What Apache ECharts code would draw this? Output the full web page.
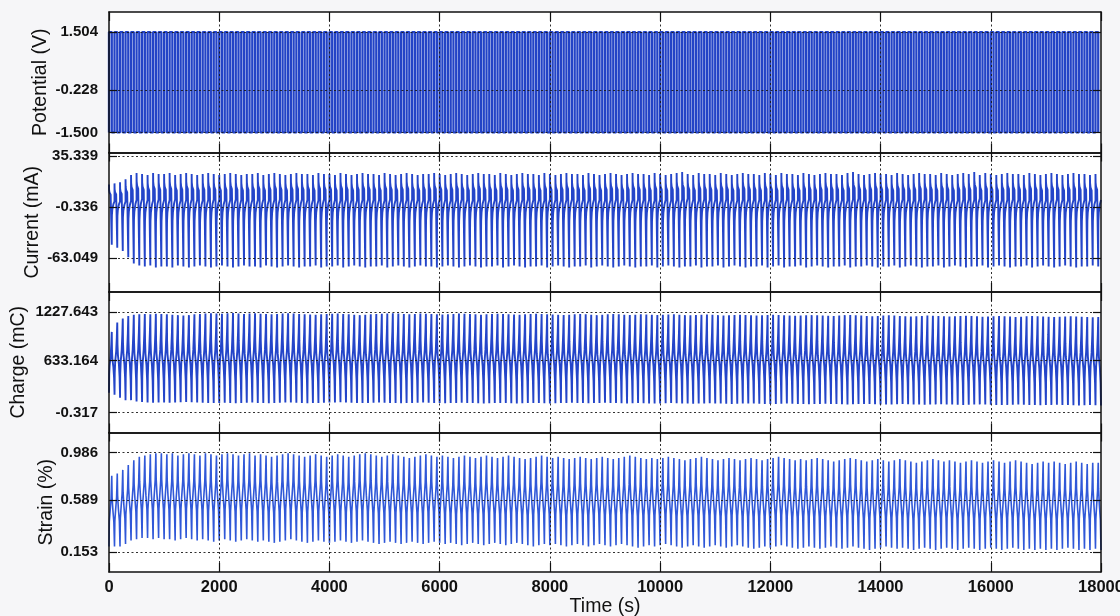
<!DOCTYPE html>
<html>
<head>
<meta charset="utf-8">
<script src="https://cdn.jsdelivr.net/npm/echarts@6/dist/echarts.min.js"></script>
<style>
  html, body { margin: 0; padding: 0; background: #f6f6f8; }
  #chart { width: 1120px; height: 616px; }
</style>
</head>
<body>
<div id="chart"></div>
<script>
// ---- time axis ----
const timeMax = 18000;
const timeStep = 2000;
const cyclePeriod = 100;            // s per potential cycle

// ---- y tick values and their printed labels ----
const potentialTickPos = [-1.500, -0.228, 1.504];
const potentialTickText = ['-1.500', '-0.228', '1.504'];
const currentTickPos = [-63.049, -13.855, 35.339];
const currentTickText = ['-63.049', '-0.336', '35.339'];
const chargeTickPos = [-0.317, 633.164, 1227.643];
const chargeTickText = ['-0.317', '633.164', '1227.643'];
const strainTickPos = [0.153, 0.589, 0.986];
const strainTickText = ['0.153', '0.589', '0.986'];

// ---- potential: square wave levels (V) ----
const potentialHigh = 1.504;
const potentialLow = -1.500;

// ---- per-cycle extremes ----
const currentHigh = [
   8,  9, 10, 13, 17, 19, 18, 17, 19, 18,
  18, 19, 17, 18, 19, 18, 17, 18, 19, 18,
  17, 18, 19, 18, 17, 18, 18, 19, 17, 18,
  19, 18, 17, 18, 19, 18, 18, 17, 19, 18,
  18, 17, 19, 18, 17, 18, 19, 18, 18, 17,
  19, 18, 17, 18, 19, 18, 17, 18, 18, 19,
  18, 17, 18, 19, 18, 17, 18, 19, 18, 18,
  17, 19, 18, 17, 18, 19, 18, 18, 17, 19,
  18, 17, 18, 19, 18, 18, 17, 19, 18, 17,
  18, 19, 18, 17, 18, 19, 18, 18, 17, 19,
  18, 17, 18, 19, 20, 18, 17, 19, 18, 18,
  17, 19, 18, 17, 18, 19, 18, 18, 17, 19,
  18, 17, 19, 18, 18, 17, 19, 18, 17, 18,
  19, 18, 18, 17, 19, 20, 18, 17, 18, 19,
  18, 18, 17, 19, 18, 17, 18, 19, 18, 18,
  17, 19, 18, 17, 18, 19, 18, 20, 17, 19,
  18, 17, 18, 19, 18, 18, 17, 19, 18, 17,
  18, 19, 18, 17, 18, 19, 18, 18, 17, 18
];
const currentLow = [
  -50, -53, -56, -62, -68, -70, -71, -70, -72, -71,
  -71, -72, -70, -71, -72, -71, -70, -71, -72, -71,
  -70, -71, -72, -71, -70, -71, -71, -72, -70, -71,
  -72, -71, -70, -71, -72, -71, -71, -70, -72, -71,
  -71, -70, -72, -71, -70, -71, -72, -71, -71, -70,
  -72, -71, -70, -71, -72, -71, -70, -71, -71, -72,
  -71, -70, -71, -72, -71, -70, -71, -72, -71, -71,
  -70, -72, -71, -70, -71, -72, -71, -71, -70, -72,
  -71, -70, -71, -72, -71, -71, -70, -72, -71, -70,
  -71, -72, -71, -70, -71, -72, -71, -71, -70, -72,
  -71, -70, -71, -72, -71, -71, -70, -72, -71, -71,
  -70, -72, -71, -70, -71, -72, -71, -71, -70, -72,
  -71, -70, -72, -71, -71, -70, -72, -71, -70, -71,
  -72, -71, -71, -70, -72, -71, -71, -70, -71, -72,
  -71, -71, -70, -72, -71, -70, -71, -72, -71, -71,
  -70, -72, -71, -70, -71, -72, -71, -71, -70, -72,
  -71, -70, -71, -72, -71, -71, -70, -72, -71, -70,
  -71, -72, -71, -70, -71, -72, -71, -71, -70, -71
];
const chargeHigh = [
   985, 1100, 1150, 1178, 1195, 1200, 1205, 1200, 1208, 1205,
  1200, 1195, 1190, 1185, 1190, 1200, 1205, 1210, 1212, 1210,
  1208, 1212, 1215, 1210, 1205, 1210, 1212, 1208, 1205, 1200,
  1205, 1210, 1212, 1210, 1205, 1200, 1198, 1195, 1200, 1205,
  1208, 1210, 1205, 1200, 1195, 1190, 1195, 1200, 1205, 1208,
  1210, 1212, 1210, 1205, 1200, 1205, 1210, 1208, 1205, 1200,
  1198, 1200, 1205, 1210, 1208, 1205, 1200, 1195, 1200, 1205,
  1208, 1205, 1200, 1198, 1195, 1200, 1205, 1208, 1205, 1200,
  1198, 1195, 1192, 1195, 1200, 1205, 1200, 1195, 1190, 1195,
  1200, 1205, 1200, 1195, 1192, 1195, 1200, 1198, 1195, 1192,
  1195, 1198, 1200, 1195, 1190, 1188, 1192, 1195, 1198, 1195,
  1190, 1185, 1188, 1192, 1195, 1192, 1188, 1185, 1188, 1192,
  1195, 1192, 1188, 1185, 1182, 1185, 1188, 1190, 1188, 1185,
  1182, 1180, 1185, 1190, 1192, 1188, 1185, 1180, 1175, 1180,
  1185, 1188, 1185, 1180, 1175, 1172, 1175, 1180, 1185, 1182,
  1178, 1175, 1172, 1175, 1180, 1182, 1178, 1175, 1170, 1172,
  1175, 1178, 1175, 1172, 1168, 1170, 1175, 1178, 1175, 1172,
  1170, 1168, 1170, 1172, 1175, 1172, 1170, 1168, 1165, 1168
];
const chargeLow = [
  240, 215, 178, 150, 133, 126, 120, 118, 122, 120,
  118, 120, 125, 128, 124, 120, 118, 115, 114, 116,
  118, 115, 112, 114, 118, 120, 116, 114, 112, 115,
  118, 120, 122, 118, 115, 112, 114, 116, 118, 120,
  122, 124, 120, 118, 115, 114, 116, 118, 120, 118,
  116, 114, 112, 114, 116, 118, 120, 118, 116, 114,
  112, 114, 116, 118, 116, 114, 112, 110, 112, 114,
  116, 114, 112, 110, 112, 114, 116, 114, 112, 110,
  112, 114, 116, 118, 116, 114, 112, 114, 116, 118,
  116, 114, 112, 110, 112, 114, 112, 110, 108, 110,
  112, 114, 112, 110, 108, 106, 108, 110, 112, 110,
  108, 106, 104, 106, 108, 110, 108, 106, 104, 102,
  104, 106, 108, 106, 104, 102, 100, 102, 104, 106,
  104, 102, 100,  98, 100, 102, 104, 102, 100,  98,
   96,  98, 100, 102, 100,  98,  96,  94,  96,  98,
  100,  98,  96,  94,  92,  94,  96,  98,  96,  94,
   92,  90,  92,  94,  96,  94,  92,  90,  88,  90,
   92,  94,  92,  90,  88,  86,  88,  90,  88,  85
];
const strainHigh = [
  0.79, 0.81, 0.84, 0.88, 0.92, 0.95, 0.96, 0.97, 0.98, 0.98,
  0.97, 0.98, 0.96, 0.97, 0.98, 0.97, 0.96, 0.98, 0.97, 0.96,
  0.97, 0.98, 0.97, 0.96, 0.97, 0.98, 0.96, 0.97, 0.96, 0.95,
  0.96, 0.97, 0.98, 0.97, 0.96, 0.95, 0.96, 0.97, 0.96, 0.95,
  0.96, 0.97, 0.96, 0.95, 0.96, 0.97, 0.98, 0.97, 0.96, 0.95,
  0.96, 0.97, 0.96, 0.95, 0.94, 0.95, 0.96, 0.97, 0.96, 0.95,
  0.96, 0.95, 0.94, 0.95, 0.96, 0.95, 0.94, 0.95, 0.96, 0.95,
  0.94, 0.95, 0.96, 0.95, 0.94, 0.93, 0.94, 0.95, 0.96, 0.95,
  0.94, 0.95, 0.94, 0.93, 0.94, 0.95, 0.94, 0.93, 0.94, 0.95,
  0.94, 0.93, 0.94, 0.95, 0.96, 0.95, 0.94, 0.93, 0.94, 0.93,
  0.94, 0.95, 0.94, 0.93, 0.92, 0.93, 0.94, 0.95, 0.94, 0.93,
  0.92, 0.93, 0.94, 0.93, 0.92, 0.93, 0.94, 0.93, 0.92, 0.93,
  0.94, 0.95, 0.94, 0.93, 0.92, 0.93, 0.92, 0.93, 0.94, 0.93,
  0.92, 0.91, 0.92, 0.93, 0.94, 0.93, 0.92, 0.91, 0.92, 0.93,
  0.92, 0.91, 0.92, 0.93, 0.92, 0.91, 0.90, 0.91, 0.92, 0.93,
  0.92, 0.91, 0.92, 0.91, 0.90, 0.91, 0.92, 0.91, 0.90, 0.91,
  0.92, 0.91, 0.90, 0.91, 0.92, 0.91, 0.90, 0.89, 0.90, 0.91,
  0.90, 0.91, 0.90, 0.89, 0.90, 0.91, 0.90, 0.89, 0.90, 0.90
];
const strainLow = [
  0.20, 0.20, 0.22, 0.25, 0.26, 0.27, 0.27, 0.26, 0.27, 0.26,
  0.26, 0.25, 0.26, 0.27, 0.26, 0.25, 0.26, 0.25, 0.24, 0.25,
  0.26, 0.25, 0.24, 0.25, 0.26, 0.25, 0.24, 0.25, 0.24, 0.23,
  0.24, 0.25, 0.26, 0.25, 0.24, 0.23, 0.24, 0.25, 0.24, 0.23,
  0.24, 0.25, 0.24, 0.23, 0.24, 0.25, 0.24, 0.23, 0.22, 0.23,
  0.24, 0.23, 0.22, 0.23, 0.24, 0.23, 0.22, 0.23, 0.24, 0.23,
  0.22, 0.23, 0.22, 0.21, 0.22, 0.23, 0.22, 0.21, 0.22, 0.23,
  0.22, 0.21, 0.22, 0.23, 0.22, 0.21, 0.20, 0.21, 0.22, 0.21,
  0.22, 0.21, 0.20, 0.21, 0.22, 0.21, 0.20, 0.21, 0.22, 0.21,
  0.20, 0.21, 0.22, 0.21, 0.20, 0.19, 0.20, 0.21, 0.20, 0.21,
  0.22, 0.21, 0.20, 0.19, 0.20, 0.21, 0.20, 0.19, 0.20, 0.21,
  0.20, 0.19, 0.20, 0.21, 0.20, 0.19, 0.18, 0.19, 0.20, 0.19,
  0.20, 0.21, 0.20, 0.19, 0.18, 0.19, 0.20, 0.19, 0.18, 0.19,
  0.20, 0.19, 0.18, 0.19, 0.20, 0.19, 0.18, 0.17, 0.18, 0.19,
  0.20, 0.19, 0.18, 0.19, 0.18, 0.17, 0.18, 0.19, 0.18, 0.17,
  0.18, 0.19, 0.18, 0.17, 0.18, 0.19, 0.18, 0.17, 0.18, 0.19,
  0.18, 0.17, 0.18, 0.19, 0.18, 0.17, 0.18, 0.17, 0.18, 0.17,
  0.18, 0.17, 0.18, 0.19, 0.18, 0.17, 0.18, 0.17, 0.18, 0.17
];

// ---- waveform shape within one cycle: phase (fraction of period), level (0 = cycle low, 1 = cycle high) ----
const potentialShapePhase = [0, 0, 0.5, 0.5];
const potentialShapeLevel = [0, 1, 1, 0];
const currentShapePhase = [0, 0.02, 0.1, 0.3, 0.5, 0.5, 0.51, 0.53, 0.6, 0.8, 1.0];
const currentShapeLevel = [1, 0.91, 0.865, 0.83, 0.81, 0, 0.36, 0.494, 0.584, 0.674, 0.719];
const chargeShapePhase = [0, 0.04, 0.12, 0.3, 0.42, 0.5, 0.54, 0.62, 0.8, 0.92, 1.0];
const chargeShapeLevel = [0, 0.3, 0.45, 0.6, 0.8, 1, 0.7, 0.55, 0.42, 0.25, 0];
const strainShapePhase = [0, 0.06, 0.2, 0.38, 0.5, 0.56, 0.7, 0.88, 1.0];
const strainShapeLevel = [0, 0.35, 0.5, 0.68, 1, 0.7, 0.52, 0.35, 0];

const nCycles = timeMax / cyclePeriod;

function buildWave(low, high, phases, levels) {
  const pts = [];
  for (let k = 0; k < nCycles; k++) {
    const lo = Array.isArray(low) ? low[k] : low;
    const hi = Array.isArray(high) ? high[k] : high;
    const t0 = k * cyclePeriod;
    for (let j = 0; j < phases.length; j++) {
      const t = t0 + phases[j] * cyclePeriod;
      if (t > timeMax) continue;
      pts.push([t, lo + levels[j] * (hi - lo)]);
    }
  }
  return pts;
}

const potentialData = buildWave(potentialLow, potentialHigh, potentialShapePhase, potentialShapeLevel);
const currentData = buildWave(currentLow, currentHigh, currentShapePhase, currentShapeLevel);
const chargeData = buildWave(chargeLow, chargeHigh, chargeShapePhase, chargeShapeLevel);
const strainData = buildWave(strainLow, strainHigh, strainShapePhase, strainShapeLevel);

// ---- layout / style ----
const FONT = '"Liberation Sans", Arial, Helvetica, sans-serif';
const INK = '#111';
const panels = [
  { top: 12,    height: 140.5, name: 'Potential (V)', gap: 58, min: -2.1008, max: 2.1048,
    ticks: potentialTickPos, text: potentialTickText, data: potentialData, color: '#2343c6', width: 2.3 },
  { top: 152.5, height: 139.5, name: 'Current (mA)', gap: 66, min: -95.46, max: 38.70,
    ticks: currentTickPos, text: currentTickText, data: currentData, color: '#2445c9', width: 1.9 },
  { top: 292,   height: 140.5, name: 'Charge (mC)', gap: 80, min: -245.91, max: 1473.24,
    ticks: chargeTickPos, text: chargeTickText, data: chargeData, color: '#2445c9', width: 1.9 },
  { top: 432.5, height: 139.5, name: 'Strain (%)', gap: 52, min: -0.0136, max: 1.1526,
    ticks: strainTickPos, text: strainTickText, data: strainData, color: '#3058d8', width: 1.6 }
];
const timeGrid = [];
for (let t = timeStep; t < timeMax; t += timeStep) timeGrid.push(t);

const grids = [], xAxes = [], yAxes = [], series = [];
panels.forEach((p, i) => {
  const last = i === panels.length - 1;
  grids.push({ left: 109, right: 19, top: p.top, height: p.height, outerBoundsMode: 'none',
               containLabel: false, show: true, backgroundColor: '#ffffff', borderWidth: 0 });
  const xBase = {
    gridIndex: i, type: 'value', min: 0, max: timeMax, interval: timeStep, z: 5,
    axisLine: { show: true, onZero: false, lineStyle: { color: INK, width: 1.5 } },
    axisTick: { show: true, inside: true, length: 9, lineStyle: { color: INK, width: 1.2 } },
    splitLine: { show: false }
  };
  xAxes.push(Object.assign({}, xBase, {
    position: 'bottom',
    axisLabel: { show: last, margin: 7, color: INK, fontFamily: FONT, fontWeight: 'bold', fontSize: 16.5,
                 formatter: v => String(v), hideOverlap: false },
    name: last ? 'Time (s)' : '', nameLocation: 'middle', nameGap: 25, nameMoveOverlap: false,
    nameTextStyle: { color: INK, fontFamily: FONT, fontSize: 19.5 }
  }));
  xAxes.push(Object.assign({}, xBase, { position: 'top', axisLabel: { show: false } }));

  const yBase = {
    gridIndex: i, type: 'value', min: p.min, max: p.max, z: 5,
    axisLine: { show: true, onZero: false, lineStyle: { color: INK, width: 1.5 } },
    axisTick: { show: true, inside: true, length: 8, customValues: p.ticks, lineStyle: { color: INK, width: 1.2 } },
    splitLine: { show: false }
  };
  yAxes.push(Object.assign({}, yBase, {
    position: 'left',
    axisLabel: {
      show: true, customValues: p.ticks, margin: 11, color: INK, fontFamily: FONT,
      fontWeight: 'bold', fontSize: 15,
      formatter: v => {
        let best = 0;
        p.ticks.forEach((tv, j) => { if (Math.abs(tv - v) < Math.abs(p.ticks[best] - v)) best = j; });
        return p.text[best];
      }
    },
    name: p.name, nameLocation: 'middle', nameRotate: 90, nameGap: p.gap, nameMoveOverlap: false,
    nameTextStyle: { color: INK, fontFamily: FONT, fontSize: 19.5 }
  }));
  yAxes.push(Object.assign({}, yBase, { position: 'right', axisLabel: { show: false } }));

  series.push({
    type: 'line', xAxisIndex: 2 * i, yAxisIndex: 2 * i, data: p.data,
    showSymbol: false, symbol: 'none', sampling: 'none', animation: false, silent: true,
    lineStyle: { color: p.color, width: p.width },
    markLine: {
      silent: true, symbol: ['none', 'none'], animation: false,
      label: { show: false },
      lineStyle: { color: '#1a1a1a', width: 1, type: [2, 2.5], opacity: 0.9 },
      emphasis: { disabled: true },
      data: p.ticks.map(v => ({ yAxis: v })).concat(timeGrid.map(t => ({ xAxis: t })))
    }
  });
});

const chart = echarts.init(document.getElementById('chart'), null, { renderer: 'canvas' });
chart.setOption({
  backgroundColor: '#f6f6f8',
  animation: false,
  grid: grids,
  xAxis: xAxes,
  yAxis: yAxes,
  series: series
});
</script>
</body>
</html>
